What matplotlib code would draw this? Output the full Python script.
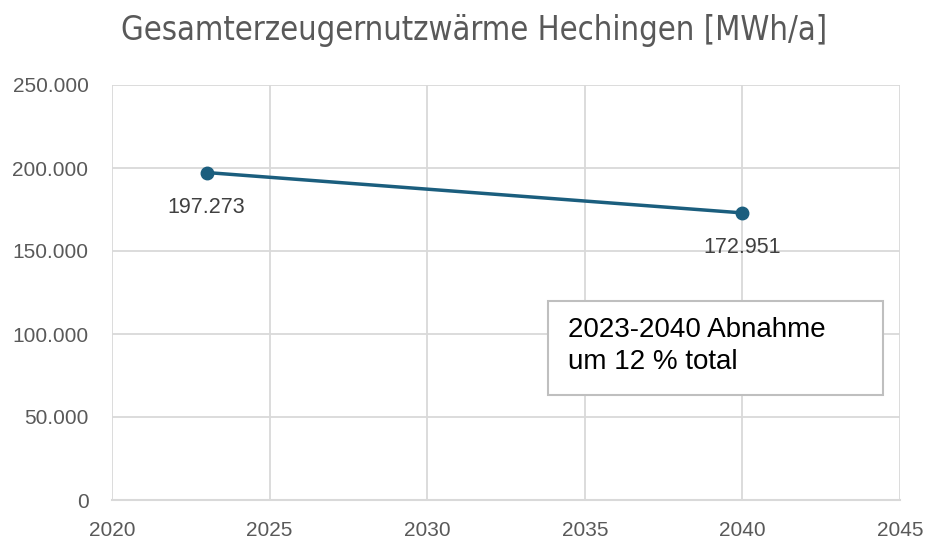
import matplotlib
matplotlib.use("Agg")
import matplotlib.pyplot as plt
from matplotlib.patches import Rectangle

years = [2023, 2040]
values = [197273, 172951]
labels = ["197.273", "172.951"]
title = "Gesamterzeugernutzwärme Hechingen [MWh/a]"
xticks = [2020, 2025, 2030, 2035, 2040, 2045]
yticks = [0, 50000, 100000, 150000, 200000, 250000]
ytick_labels = ["0", "50.000", "100.000", "150.000", "200.000", "250.000"]
note = "2023-2040 Abnahme\num 12 % total"

sans = ['Liberation Sans', 'DejaVu Sans']

fig = plt.figure(figsize=(9.27, 5.4), dpi=100)
ax = fig.add_axes([112/927, 1-500/540, (900-112)/927, (500-85)/540])

line_color = "#1B5E7E"
grid_color = "#D9D9D9"
ax.plot(years, values, color=line_color, lw=2.5, marker='o', ms=9, zorder=3, clip_on=False)

ax.set_xlim(2020, 2045)
ax.set_ylim(0, 250000)
ax.set_xticks(xticks)
ax.set_yticks(yticks)
ax.set_xticklabels([str(x) for x in xticks], family=sans, fontsize=15, color="#595959")
ax.set_yticklabels(ytick_labels, family=sans, fontsize=15, color="#595959")
ax.tick_params(axis='both', length=0)
ax.tick_params(axis='x', pad=15)
ax.tick_params(axis='y', pad=17)

ax.grid(True, color=grid_color, lw=1.3)
ax.set_axisbelow(True)
for s in ['top', 'right', 'left']:
    ax.spines[s].set_visible(False)
ax.spines['bottom'].set_color(grid_color)
ax.spines['bottom'].set_linewidth(1.5)

for x, y, t in zip(years, values, labels):
    ax.annotate(t, (x, y), xytext=(0, -35), textcoords='offset pixels',
                ha='center', va='center', fontsize=15.5, color="#404040", family=sans)

fig.text(474/927, 1-31/540, title, ha='center', va='center', fontsize=23.5,
         color="#595959", family='DejaVu Sans', stretch='condensed')

fig.patches.append(Rectangle((548/927, 1-395/540), (883-548)/927, (395-301)/540,
                             transform=fig.transFigure, fc='white', ec='#BFBFBF', lw=1.5, zorder=5))
fig.text(568/927, 1-346/540, note, ha='left', va='center', fontsize=20, color="black",
         family=sans, linespacing=1.3, zorder=6)

fig.savefig("out.png", dpi=100)
